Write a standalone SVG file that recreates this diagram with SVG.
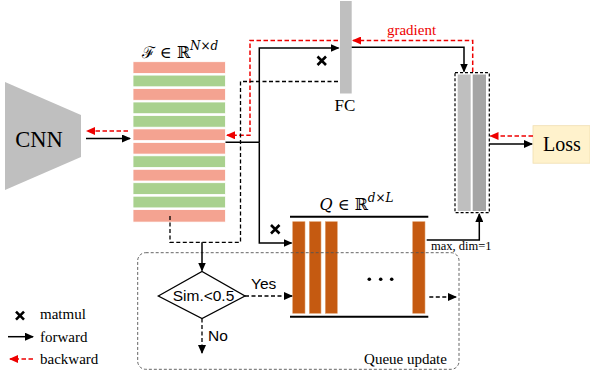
<svg xmlns="http://www.w3.org/2000/svg" width="590" height="374" viewBox="0 0 590 374">
<defs>
<marker id="ab" markerUnits="userSpaceOnUse" markerWidth="9" markerHeight="8" refX="8" refY="4" orient="auto"><path d="M0,0 L9,4 L0,8 z" fill="#000"/></marker>
<marker id="ar" markerUnits="userSpaceOnUse" markerWidth="9" markerHeight="8" refX="8" refY="4" orient="auto"><path d="M0,0 L9,4 L0,8 z" fill="#e00"/></marker>
<style>
.serif{font-family:"Liberation Serif","Times New Roman",serif;fill:#000}
.sans{font-family:"Liberation Sans",Arial,sans-serif;fill:#000}
.math{font-family:"DejaVu Serif","Liberation Serif",serif;fill:#000}
.pk{fill:#f4a391;stroke:#fff;stroke-width:0.8}
.gn{fill:#a9d18e;stroke:#fff;stroke-width:0.8}
.q{fill:#c55a11;stroke:#e0a070;stroke-width:0.6}
.fw{fill:none;stroke:#000;stroke-width:1.5}
.dk{fill:none;stroke:#000;stroke-width:1.3;stroke-dasharray:4 2.5}
.rd{fill:none;stroke:#e00;stroke-width:1.5;stroke-dasharray:4.5 2.5}
.x{stroke:#000;stroke-width:2.6;stroke-linecap:butt}
</style>
</defs>
<rect width="590" height="374" fill="#fff"/>

<g id="cnn">
<polygon points="5,82 81,115 81,157 5,190" fill="#bfbfbf"/>
<text class="serif" x="39" y="147" font-size="22.5" text-anchor="middle">CNN</text>
</g>

<g id="features">
<rect class="pk" x="133" y="61.7" width="92.5" height="11.7"/>
<rect class="gn" x="133" y="75.1" width="92.5" height="11.7"/>
<rect class="pk" x="133" y="88.6" width="92.5" height="11.7"/>
<rect class="gn" x="133" y="102" width="92.5" height="11.7"/>
<rect class="gn" x="133" y="115.5" width="92.5" height="11.7"/>
<rect class="pk" x="133" y="128.9" width="92.5" height="11.7"/>
<rect class="pk" x="133" y="142.4" width="92.5" height="11.7"/>
<rect class="gn" x="133" y="155.8" width="92.5" height="11.7"/>
<rect class="pk" x="133" y="169.3" width="92.5" height="11.7"/>
<rect class="gn" x="133" y="182.7" width="92.5" height="11.7"/>
<rect class="gn" x="133" y="196.2" width="92.5" height="11.7"/>
<rect class="pk" x="133" y="209.6" width="92.5" height="12.5"/>
<text class="math" x="180" y="58" font-size="16" text-anchor="middle">ℱ ∈ ℝ<tspan dy="-8" font-size="12" font-style="italic">N×d</tspan></text>
</g>

<g id="fc">
<rect x="340" y="1" width="11.7" height="92.5" fill="#bfbfbf"/>
<text class="serif" x="345" y="111" font-size="17" text-anchor="middle">FC</text>
</g>

<g id="sim">
<rect x="455" y="72.7" width="34.3" height="140" fill="#fff" stroke="#000" stroke-width="1.2" stroke-dasharray="3 2"/>
<rect x="457.7" y="74.5" width="13" height="136.5" fill="#bfbfbf"/>
<rect x="472.7" y="74.5" width="13.3" height="136.5" fill="#a5a5a5"/>
</g>

<g id="loss">
<rect x="533" y="125.7" width="57" height="37.5" fill="#fff2cc" stroke="#f0deb0" stroke-width="0.8"/>
<text class="serif" x="562" y="151" font-size="20" text-anchor="middle">Loss</text>
</g>

<g id="queue">
<line x1="290" y1="216.7" x2="428.3" y2="216.7" stroke="#000" stroke-width="2"/>
<line x1="290" y1="316.7" x2="428.3" y2="316.7" stroke="#000" stroke-width="2"/>
<rect class="q" x="292.7" y="221.7" width="12.3" height="91.6"/>
<rect class="q" x="309.3" y="221.7" width="11.7" height="91.6"/>
<rect class="q" x="325.3" y="221.7" width="12" height="91.6"/>
<rect class="q" x="412.7" y="221.7" width="12.3" height="91.6"/>
<circle cx="369.3" cy="279.3" r="1.8" fill="#000"/>
<circle cx="380.7" cy="279.3" r="1.8" fill="#000"/>
<circle cx="391.7" cy="279.3" r="1.8" fill="#000"/>
<text class="math" x="356.5" y="209.5" font-size="16" text-anchor="middle"><tspan font-style="italic">Q</tspan> ∈ ℝ<tspan dy="-8" font-size="12" font-style="italic">d×L</tspan></text>
</g>

<g id="queue-update">
<rect x="137.7" y="252.7" width="321.3" height="116.6" rx="8" ry="8" fill="none" stroke="#555" stroke-width="0.9" stroke-dasharray="3 2"/>
<text class="serif" x="405.5" y="363.5" font-size="15" text-anchor="middle">Queue update</text>
</g>

<g id="decision">
<polygon points="158.3,296 202,271.5 245,296 202,318.5" fill="#fff" stroke="#000" stroke-width="1.3"/>
<text class="sans" x="203.5" y="301" font-size="15.5" text-anchor="middle">Sim.&lt;0.5</text>
</g>

<g id="connectors">
<line class="fw" x1="86" y1="138.5" x2="130" y2="138.5" marker-end="url(#ab)"/>
<line class="rd" x1="128" y1="131" x2="87" y2="131" marker-end="url(#ar)"/>
<polyline class="fw" points="225.5,142.3 259.3,142.3"/>
<polyline class="fw" points="259.3,142.3 259.3,48 338.5,48" marker-end="url(#ab)"/>
<polyline class="fw" points="259.3,142.3 259.3,243 291.5,243" marker-end="url(#ab)"/>
<polyline class="fw" points="351.7,47.3 464,47.3 464,71.5" marker-end="url(#ab)"/>
<polyline class="rd" points="338,40.5 250,40.5 250,135.3 227,135.3" marker-end="url(#ar)"/>
<polyline class="rd" points="472.7,72 472.7,40.5 353,40.5" marker-end="url(#ar)"/>
<line class="rd" x1="533" y1="136" x2="490.5" y2="136" marker-end="url(#ar)"/>
<line class="fw" x1="489.3" y1="144" x2="532" y2="144" marker-end="url(#ab)"/>
<polyline class="dk" points="338,81.5 240.5,81.5 240.5,242.3 170,242.3 170,215"/>
<line class="fw" x1="202" y1="242.3" x2="202" y2="270.5" marker-end="url(#ab)"/>
<line class="dk" x1="245" y1="296" x2="292" y2="296" marker-end="url(#ab)"/>
<line class="dk" x1="202" y1="318.5" x2="202" y2="353" marker-end="url(#ab)"/>
<line class="dk" x1="429.3" y1="297" x2="456" y2="297" marker-end="url(#ab)"/>
<polyline class="fw" points="426.7,240 479.3,240 479.3,214" marker-end="url(#ab)"/>
<text class="sans" x="251" y="289" font-size="15.5">Yes</text>
<text class="sans" x="208" y="340.5" font-size="15.5">No</text>
<text class="serif" x="431" y="250" font-size="12.5">max, dim=1</text>
<text class="serif" x="411.5" y="35" font-size="15" fill="#e00" text-anchor="middle" style="fill:#e00">gradient</text>
<path class="x" d="M317.5,56.5 L326,65 M326,56.5 L317.5,65"/>
<path class="x" d="M271,225 L279.5,233.5 M279.5,225 L271,233.5"/>
</g>

<g id="legend">
<path class="x" d="M16,311.7 L24,319.7 M24,311.7 L16,319.7"/>
<text class="serif" x="40" y="319" font-size="15">matmul</text>
<line class="fw" x1="8" y1="336.7" x2="33" y2="336.7" marker-end="url(#ab)"/>
<text class="serif" x="40" y="341.5" font-size="15">forward</text>
<line class="rd" x1="33" y1="359" x2="10" y2="359" marker-end="url(#ar)"/>
<text class="serif" x="40" y="363.5" font-size="15">backward</text>
</g>
</svg>
